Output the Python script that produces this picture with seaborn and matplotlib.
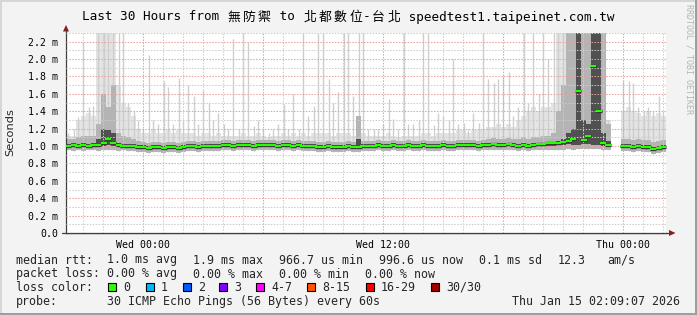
import numpy as np
import pandas as pd
import matplotlib
matplotlib.use("Agg")
import matplotlib.pyplot as plt
import matplotlib.dates as mdates
from matplotlib.ticker import MultipleLocator, FuncFormatter
from matplotlib.patches import Rectangle, Polygon
import seaborn as sns

nan = np.nan
# ---------------- data (RTT in milliseconds, 15-minute bins) ----------------
end_time = "2026-01-15 02:09:07"
n_bins = 120

rtt_median = [
    1.00, 1.01, 1.00, 1.01, 1.00, 1.01, 1.01, 1.04, 1.08, 1.03,
    1.01, 1.00, 1.00, 1.00, 0.99, 0.99, 0.98, 0.99, 0.99, 0.98,
    0.99, 0.99, 0.98, 0.99, 1.00, 1.00, 0.99, 1.00, 1.00, 1.00,
    1.00, 1.01, 1.01, 1.00, 1.01, 1.01, 1.01, 1.00, 1.01, 1.01,
    1.01, 1.01, 1.00, 1.01, 1.01, 1.00, 1.01, 1.00, 1.00, 1.00,
    0.99, 0.99, 1.00, 0.99, 0.99, 0.99, 1.00, 0.99, 0.99, 1.00,
    1.00, 1.00, 1.01, 1.00, 1.00, 1.01, 1.00, 1.00, 1.01, 1.00,
    1.00, 1.01, 1.00, 1.00, 1.00, 1.01, 1.00, 1.00, 1.01, 1.01,
    1.01, 1.01, 1.00, 1.01, 1.01, 1.02, 1.01, 1.01, 1.02, 1.01,
    1.00, 1.01, 1.00, 1.01, 1.02, 1.02, 1.03, 1.03, 1.04, 1.05,
    1.06, 1.08, 1.63, 1.07, 1.12, 1.92, 1.40, 1.04, 1.01, nan,
    nan, 1.00, 1.00, 0.99, 1.00, 0.99, 0.99, 0.97, 0.98, 0.99,
]
rtt_min = [
    0.95, 0.94, 0.95, 0.94, 0.95, 0.95, 0.94, 0.95, 0.96, 0.95,
    0.94, 0.95, 0.94, 0.94, 0.93, 0.93, 0.92, 0.93, 0.93, 0.92,
    0.93, 0.93, 0.92, 0.93, 0.94, 0.94, 0.93, 0.94, 0.94, 0.94,
    0.94, 0.95, 0.95, 0.94, 0.95, 0.95, 0.95, 0.94, 0.95, 0.95,
    0.95, 0.95, 0.94, 0.95, 0.95, 0.94, 0.95, 0.94, 0.94, 0.94,
    0.93, 0.93, 0.94, 0.93, 0.93, 0.93, 0.94, 0.93, 0.93, 0.94,
    0.94, 0.94, 0.95, 0.94, 0.94, 0.95, 0.94, 0.94, 0.95, 0.94,
    0.94, 0.95, 0.94, 0.94, 0.94, 0.95, 0.94, 0.94, 0.95, 0.95,
    0.95, 0.95, 0.94, 0.95, 0.95, 0.96, 0.95, 0.95, 0.96, 0.95,
    0.94, 0.95, 0.94, 0.95, 0.95, 0.95, 0.96, 0.96, 0.96, 0.96,
    0.97, 0.96, 0.97, 0.97, 0.97, 0.97, 0.97, 0.96, 0.95, nan,
    nan, 0.94, 0.94, 0.93, 0.94, 0.93, 0.93, 0.91, 0.92, 0.93,
]
rtt_q1 = [
    0.98, 0.99, 0.98, 0.99, 0.98, 0.99, 0.99, 1.00, 1.01, 1.00,
    0.99, 0.98, 0.98, 0.98, 0.97, 0.97, 0.96, 0.97, 0.97, 0.96,
    0.97, 0.97, 0.96, 0.97, 0.98, 0.98, 0.97, 0.98, 0.98, 0.98,
    0.98, 0.99, 0.99, 0.98, 0.99, 0.99, 0.99, 0.98, 0.99, 0.99,
    0.99, 0.99, 0.98, 0.99, 0.99, 0.98, 0.99, 0.98, 0.98, 0.98,
    0.97, 0.97, 0.98, 0.97, 0.97, 0.97, 0.98, 0.97, 0.98, 0.98,
    0.98, 0.98, 0.99, 0.98, 0.98, 0.99, 0.98, 0.98, 0.99, 0.98,
    0.98, 0.99, 0.98, 0.98, 0.98, 0.99, 0.98, 0.98, 0.99, 0.99,
    0.99, 0.99, 0.98, 0.99, 0.99, 1.00, 0.99, 0.99, 1.00, 0.99,
    0.98, 0.99, 0.98, 0.99, 1.00, 1.00, 1.00, 1.00, 1.01, 1.01,
    1.02, 1.01, 1.01, 1.02, 1.02, 1.01, 1.01, 1.00, 0.99, nan,
    nan, 0.98, 0.98, 0.97, 0.98, 0.97, 0.97, 0.95, 0.96, 0.97,
]
rtt_q3 = [
    1.02, 1.03, 1.02, 1.03, 1.02, 1.03, 1.08, 1.20, 1.18, 1.15,
    1.04, 1.02, 1.02, 1.02, 1.01, 1.01, 1.00, 1.01, 1.01, 1.00,
    1.01, 1.01, 1.00, 1.01, 1.02, 1.02, 1.01, 1.02, 1.02, 1.02,
    1.02, 1.03, 1.03, 1.02, 1.03, 1.03, 1.03, 1.02, 1.03, 1.03,
    1.03, 1.03, 1.02, 1.03, 1.03, 1.02, 1.03, 1.02, 1.02, 1.02,
    1.01, 1.01, 1.02, 1.01, 1.01, 1.01, 1.02, 1.01, 1.08, 1.02,
    1.02, 1.02, 1.03, 1.02, 1.02, 1.03, 1.02, 1.02, 1.03, 1.02,
    1.02, 1.03, 1.02, 1.02, 1.02, 1.03, 1.02, 1.02, 1.03, 1.03,
    1.03, 1.03, 1.02, 1.03, 1.03, 1.04, 1.03, 1.03, 1.04, 1.03,
    1.02, 1.03, 1.02, 1.03, 1.04, 1.04, 1.05, 1.05, 1.06, 1.08,
    1.15, 1.20, 2.30, 1.30, 1.25, 2.30, 2.30, 1.15, 1.06, nan,
    nan, 1.02, 1.02, 1.01, 1.02, 1.01, 1.01, 0.99, 1.00, 1.01,
]
rtt_p90 = [
    1.08, 1.08, 1.10, 1.12, 1.12, 1.12, 1.25, 1.60, 1.45, 1.70,
    1.15, 1.12, 1.10, 1.08, 1.06, 1.05, 1.04, 1.05, 1.05, 1.04,
    1.05, 1.05, 1.04, 1.05, 1.06, 1.06, 1.05, 1.06, 1.06, 1.06,
    1.06, 1.07, 1.07, 1.06, 1.07, 1.07, 1.07, 1.06, 1.07, 1.07,
    1.07, 1.07, 1.06, 1.07, 1.07, 1.06, 1.07, 1.06, 1.06, 1.06,
    1.05, 1.05, 1.06, 1.05, 1.05, 1.05, 1.06, 1.05, 1.35, 1.06,
    1.06, 1.06, 1.07, 1.06, 1.06, 1.07, 1.06, 1.06, 1.07, 1.06,
    1.06, 1.07, 1.06, 1.06, 1.06, 1.07, 1.06, 1.06, 1.07, 1.07,
    1.07, 1.07, 1.06, 1.07, 1.08, 1.09, 1.08, 1.08, 1.09, 1.08,
    1.08, 1.10, 1.08, 1.10, 1.10, 1.12, 1.12, 1.15, 1.40, 1.70,
    2.30, 2.30, 2.30, 2.30, 2.30, 2.30, 2.30, 2.30, 1.25, nan,
    nan, 1.08, 1.08, 1.07, 1.08, 1.07, 1.07, 1.05, 1.06, 1.07,
]
rtt_env = [
    1.12, 1.12, 1.30, 1.35, 1.38, 1.35, 2.30, 2.30, 2.30, 2.30,
    1.70, 1.50, 1.45, 1.35, 1.20, 1.15, 1.15, 1.20, 1.15, 1.15,
    1.18, 1.15, 1.18, 1.15, 1.15, 1.15, 1.12, 1.15, 1.15, 1.12,
    1.15, 1.12, 1.12, 1.12, 1.12, 1.15, 1.12, 1.12, 1.15, 1.12,
    1.10, 1.12, 1.12, 1.15, 1.12, 1.15, 1.12, 1.15, 1.12, 1.15,
    1.15, 1.15, 1.15, 1.12, 1.15, 1.15, 1.15, 1.12, 1.25, 1.15,
    1.12, 1.12, 1.12, 1.12, 1.15, 1.12, 1.10, 1.12, 1.12, 1.12,
    1.12, 1.15, 1.15, 1.12, 1.15, 1.15, 1.15, 1.15, 1.18, 1.18,
    1.15, 1.18, 1.18, 1.20, 1.22, 1.22, 1.25, 1.22, 1.25, 1.22,
    1.30, 1.35, 1.40, 1.45, 1.40, 1.45, 1.45, 1.50, 2.30, 2.30,
    2.30, 2.30, 2.30, 2.30, 2.30, 2.30, 2.30, 2.30, 1.30, nan,
    nan, 1.40, 1.45, 1.40, 1.38, 1.35, 1.40, 1.35, 1.38, 1.35,
]
rtt_max = [
    1.15, 1.20, 1.33, 2.20, 1.45, 1.46, 2.30, 2.30, 2.30, 2.30,
    2.30, 2.30, 1.50, 1.40, 1.30, 1.20, 2.05, 1.30, 1.25, 1.75,
    1.68, 1.25, 1.78, 1.30, 1.70, 1.58, 1.25, 1.65, 1.50, 1.30,
    1.38, 1.25, 1.20, 2.23, 1.20, 2.30, 2.20, 1.23, 1.30, 1.20,
    1.15, 1.20, 1.25, 1.48, 1.20, 1.60, 1.20, 2.30, 1.35, 1.46,
    2.30, 2.30, 1.77, 1.50, 1.62, 2.30, 2.30, 1.58, 2.30, 2.30,
    1.20, 1.20, 1.20, 1.25, 1.54, 1.31, 1.20, 2.30, 1.25, 1.25,
    1.30, 2.30, 2.30, 1.24, 1.38, 1.35, 1.30, 2.00, 1.25, 1.27,
    1.20, 1.38, 1.27, 2.30, 1.77, 1.73, 1.77, 1.80, 1.85, 1.35,
    1.45, 2.30, 1.50, 2.30, 1.60, 2.30, 2.00, 2.30, 2.30, 2.30,
    2.30, 2.30, 2.30, 2.30, 2.30, 2.30, 2.30, 2.30, 1.30, nan,
    nan, 1.75, 1.75, 1.72, 1.45, 1.40, 1.45, 1.40, 1.58, 1.40,
]

y_ticks = [0.0, 0.2, 0.4, 0.6, 0.8, 1.0, 1.2, 1.4, 1.6, 1.8, 2.0, 2.2]
loss_labels = ["0", "1", "2", "3", "4-7", "8-15", "16-29", "30/30"]
loss_colors = ["#26ff00", "#00b8ff", "#0059ff", "#7e00ff", "#ff00ff", "#ff5500", "#ff0000", "#a10000"]

title_text = "Last 30 Hours from 無防禦 to 北都數位-台北 speedtest1.taipeinet.com.tw"
stats_line1 = [("median rtt:", 16), ("1.0 ms avg", 107), ("1.9 ms max", 193),
               ("966.7 us min", 279), ("996.6 us now", 379), ("0.1 ms sd", 479),
               ("12.3", 558), ("am/s", 607)]
stats_line2 = [("packet loss:", 16), ("0.00 % avg", 107), ("0.00 % max", 193),
               ("0.00 % min", 279), ("0.00 % now", 365)]
probe_text = "30 ICMP Echo Pings (56 Bytes) every 60s"
stamp_text = "Thu Jan 15 02:09:07 2026"

# ---------------- frame ----------------
W, H, DPI = 697, 315, 100
end = pd.Timestamp(end_time)
start = end - pd.Timedelta(hours=30)
times = pd.date_range(start=start + pd.Timedelta(minutes=7.5), periods=n_bins, freq="15min")
df = pd.DataFrame({"time": times, "median": rtt_median, "lo": rtt_min, "q1": rtt_q1,
                   "q3": rtt_q3, "p90": rtt_p90, "env": rtt_env, "max": rtt_max})

sns.set_style("white")
plt.rcParams["font.family"] = ["DejaVu Sans Mono", "Noto Sans CJK TC"]
BG = "#f3f3f3"
fig = plt.figure(figsize=(W / DPI, H / DPI), dpi=DPI, facecolor=BG)

ov = fig.add_axes([0, 0, 1, 1], zorder=0)
ov.set_xlim(0, W)
ov.set_ylim(H, 0)
ov.axis("off")

ax = fig.add_axes([66 / W, (H - 233) / H, 600 / W, 200 / H], zorder=1)
ax.set_facecolor("white")

wdays = 15 / 1440.0
x = mdates.date2num(df["time"])
kw = dict(width=wdays, linewidth=0, antialiased=False, align="center")
ax.bar(x, df["env"] - df["lo"], bottom=df["lo"], color="#e4e4e4", zorder=1.0, **kw)
ax.vlines(x, df["lo"], df["max"], color="#cfcfcf", linewidth=1.0, zorder=1.1)
ax.bar(x, df["p90"] - df["lo"], bottom=df["lo"], color="#b4b4b4", zorder=1.2, **kw)
ax.bar(x, df["q3"] - df["q1"], bottom=df["q1"], color="#505050", zorder=1.3, **kw)

sns.scatterplot(data=df, x="time", y="median", marker="_", s=17, linewidth=2.4,
                color="#3a3a3a", ax=ax, zorder=3, legend=False)
sns.scatterplot(data=df, x="time", y="median", marker="_", s=17, linewidth=1.45,
                color=loss_colors[0], ax=ax, zorder=3.1, legend=False)

ax.set_xlim(mdates.date2num(start), mdates.date2num(end))
ax.set_ylim(0, 2.3)
ax.set_xlabel("")
ax.set_ylabel("")

ax.xaxis.set_major_locator(mdates.HourLocator(byhour=[0, 6, 12, 18]))
ax.xaxis.set_minor_locator(mdates.HourLocator())


def xfmt(v, pos):
    d = mdates.num2date(v)
    return d.strftime("%a %H:%M") if d.hour in (0, 12) else ""


ax.xaxis.set_major_formatter(FuncFormatter(xfmt))
ax.set_yticks(y_ticks)
ax.yaxis.set_minor_locator(MultipleLocator(0.1))
ax.yaxis.set_major_formatter(FuncFormatter(lambda v, p: "0.0" if abs(v) < 1e-9 else f"{v:.1f} m"))

ax.set_axisbelow(False)
ax.grid(which="major", color="#e8a0a0", linestyle=(0, (1.4, 1.4)), linewidth=0.75)
ax.grid(which="minor", color="#cccccc", linestyle=(0, (1.4, 1.4)), linewidth=0.75)
ax.tick_params(which="major", length=2, width=0.7, color="#404040", labelsize=7.1,
               labelcolor="black", pad=3.4)
ax.tick_params(which="minor", length=0)
for s in ("top", "right"):
    ax.spines[s].set_visible(False)
for s in ("left", "bottom"):
    ax.spines[s].set_color("#404040")
    ax.spines[s].set_linewidth(0.9)

ax.set_ylabel("Seconds", family="DejaVu Sans", fontsize=8.2)
ax.yaxis.set_label_coords((10 - 66) / 600, (233 - 132) / 200)
ax.yaxis.label.set_va("center")

# axis extensions and arrows
ov.plot([66, 66], [33, 29], color="#404040", lw=0.9)
ov.add_patch(Polygon([[63, 31.5], [69, 31.5], [66, 25]], closed=True, color="#8c1a1a", lw=0))
ov.plot([62, 671], [233, 233], color="#404040", lw=0.9)
ov.add_patch(Polygon([[669, 230], [669, 236], [675.5, 233]], closed=True, color="#8c1a1a", lw=0))

# borders
ov.add_patch(Rectangle((0, 0), W, 1.5, color="#d6d6d6", lw=0))
ov.add_patch(Rectangle((0, 0), 1.5, H, color="#d6d6d6", lw=0))
ov.add_patch(Rectangle((W - 2.5, 0), 2.5, H, color="#9e9e9e", lw=0))
ov.add_patch(Rectangle((0, H - 2.5), W, 2.5, color="#9e9e9e", lw=0))

# title, laid out on a monospace cell grid (CJK glyphs take two cells)
PX2PT = 72.0 / DPI


def mono_text(text, x0, y, cell, color="black"):
    size = cell / 0.6021 * PX2PT
    xcur, run, run_x = x0, "", x0
    for ch in text:
        if ord(ch) > 0x2E80:
            if run:
                ov.text(run_x, y, run, fontsize=size, family="DejaVu Sans Mono",
                        ha="left", va="baseline", color=color)
                run = ""
            ov.text(xcur + cell, y, ch, fontsize=size * 1.02, family="Noto Sans CJK TC",
                    ha="center", va="baseline", color=color)
            xcur += 2 * cell
            run_x = xcur
        else:
            run += ch
            xcur += cell
    if run:
        ov.text(run_x, y, run, fontsize=size, family="DejaVu Sans Mono",
                ha="left", va="baseline", color=color)


mono_text(title_text, 82, 20.5, 7.6)

# legend block
LSIZE = 7.0 / 0.6021 * PX2PT
rows = [263.5, 277.5, 291.0, 305.0]
for s, xx in stats_line1:
    ov.text(xx, rows[0], s, fontsize=LSIZE, family="DejaVu Sans Mono", va="baseline")
for s, xx in stats_line2:
    ov.text(xx, rows[1], s, fontsize=LSIZE, family="DejaVu Sans Mono", va="baseline")
ov.text(16, rows[2], "loss color:", fontsize=LSIZE, family="DejaVu Sans Mono", va="baseline")
box_x = [108, 146, 183, 219, 256, 307, 366, 431]
for bx, lab, col in zip(box_x, loss_labels, loss_colors):
    ov.add_patch(Rectangle((bx, 282.5), 8, 8.5, facecolor=col, edgecolor="black", lw=0.8))
    ov.text(bx + 15, rows[2], lab, fontsize=LSIZE, family="DejaVu Sans Mono", va="baseline")
ov.text(16, rows[3], "probe:", fontsize=LSIZE, family="DejaVu Sans Mono", va="baseline")
ov.text(107, rows[3], probe_text, fontsize=LSIZE, family="DejaVu Sans Mono", va="baseline")
ov.text(680, rows[3], stamp_text, fontsize=LSIZE, family="DejaVu Sans Mono", va="baseline", ha="right")

# watermark
ov.text(688.5, 4, "RRDTOOL / TOBI OETIKER", rotation=-90, fontsize=6.0, color="#b4b4b4",
        family="DejaVu Sans Mono", ha="center", va="top")

fig.savefig("out.png", dpi=DPI, facecolor=BG)
